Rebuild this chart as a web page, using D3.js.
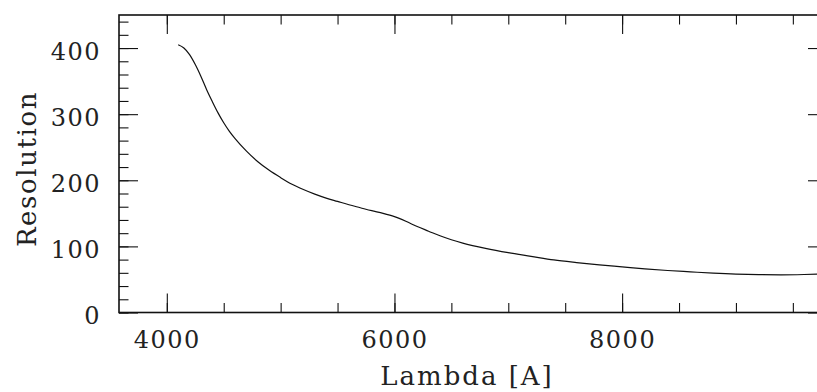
<!DOCTYPE html>
<html>
<head>
<meta charset="utf-8">
<script src="https://cdn.jsdelivr.net/npm/d3@7"></script>
<style>
  html, body { margin: 0; padding: 0; background: #fff; }
  svg { display: block; }
  text { font-family: "DejaVu Serif", serif; fill: #222; }
</style>
</head>
<body>
<div id="chart"></div>
<script>
// wavelength [A] and resolution
const lambda = [4100, 4150, 4200, 4250, 4300, 4350, 4400, 4450, 4500, 4550, 4600, 4700, 4800, 4900,
  5000, 5100, 5200, 5300, 5400, 5500, 5600, 5700, 5800, 5900, 6000, 6100, 6200, 6300,
  6400, 6500, 6600, 6800, 7000, 7200, 7400, 7600, 7800, 8000, 8200, 8400, 8600, 8800,
  9000, 9200, 9400, 9600, 9800]
const resolution = [405, 400, 390, 375, 357, 337, 319, 302, 287, 274, 263, 244, 228, 215,
  204, 194, 186, 179, 173, 168, 163, 158.5, 154, 150, 145, 138, 130, 123,
  116, 110, 105, 97, 90.5, 85, 79.5, 75.5, 72, 69, 66, 63.5, 61.5, 59.5,
  58, 57.2, 57, 57.5, 58.5]

const xMajor = [4000, 6000, 8000]
const xMinor = d3.range(4000, 9800, 500)
const yMajor = [0, 100, 200, 300, 400]
const yMinor = d3.range(0, 450, 20)

const xDomain = [3580, 9800]
const yDomain = [0, 450]

const width = 817
const height = 392
const padding = { top: 15, right: -10, bottom: 79.5, left: 119 }
const majorLen = 19
const minorLen = 9.5

const svg = d3.select('#chart').append('svg')
    .attr('width', width)
    .attr('height', height)

const x = d3.scaleLinear()
    .domain(xDomain)
    .range([padding.left, width - padding.right])

const y = d3.scaleLinear()
    .domain(yDomain)
    .range([height - padding.bottom, padding.top])

const x0 = x.range()[0], x1 = x.range()[1]
const y0 = y.range()[0], y1 = y.range()[1]

function ticks (axis, values, len, labels) {
    return axis.tickValues(values)
        .tickSizeInner(-len)
        .tickSizeOuter(0)
        .tickFormat(labels ? d3.format('d') : '')
}

function addAxis (axisFn, scale, transform, values, len, labels) {
    const g = svg.append('g')
        .attr('transform', transform)
        .call(ticks(axisFn(scale), values, len, labels))
    g.select('.domain').remove()
    g.selectAll('line').attr('stroke', '#111').attr('stroke-width', 1.1)
    g.selectAll('text').attr('font-family', null).attr('font-size', null)
    return g
}

// minor ticks on all four sides
addAxis(d3.axisBottom, x, `translate(0,${y0})`, xMinor, minorLen, false)
addAxis(d3.axisTop, x, `translate(0,${y1})`, xMinor, minorLen, false)
addAxis(d3.axisLeft, y, `translate(${x0},0)`, yMinor, minorLen, false)
addAxis(d3.axisRight, y, `translate(${x1},0)`, yMinor, minorLen, false)

// major ticks, labels only bottom and left
const bottom = addAxis(d3.axisBottom, x, `translate(0,${y0})`, xMajor, majorLen, true)
bottom.selectAll('text')
    .attr('y', 35)
    .attr('dy', 0)
    .style('font-size', '24px')
    .style('letter-spacing', '1.5px')
    .attr('fill', '#222')

addAxis(d3.axisTop, x, `translate(0,${y1})`, xMajor, majorLen, false)

const left = addAxis(d3.axisLeft, y, `translate(${x0},0)`, yMajor, majorLen, true)
left.selectAll('text')
    .attr('x', -18)
    .attr('dy', 11)
    .style('font-size', '24px')
    .style('letter-spacing', '1.5px')
    .attr('fill', '#222')

addAxis(d3.axisRight, y, `translate(${x1},0)`, yMajor, majorLen, false)

// frame
svg.append('rect')
    .attr('x', x0)
    .attr('y', y1)
    .attr('width', x1 - x0)
    .attr('height', y0 - y1)
    .attr('fill', 'none')
    .attr('stroke', '#111')
    .attr('stroke-width', 1.6)

// curve
const points = lambda.map((d, i) => [d, resolution[i]])
const line = d3.line()
    .x(d => x(d[0]))
    .y(d => y(d[1]))
    .curve(d3.curveMonotoneX)

svg.append('path')
    .datum(points)
    .attr('d', line)
    .attr('fill', 'none')
    .attr('stroke', '#111')
    .attr('stroke-width', 1.2)

// axis titles
svg.append('text')
    .attr('x', 467)
    .attr('y', 385)
    .attr('text-anchor', 'middle')
    .style('font-size', '26px')
    .style('letter-spacing', '2px')
    .text('Lambda [A]')

svg.append('text')
    .attr('transform', 'translate(36,169) rotate(-90)')
    .attr('text-anchor', 'middle')
    .style('font-size', '26px')
    .style('letter-spacing', '1.6px')
    .text('Resolution')
</script>
</body>
</html>
